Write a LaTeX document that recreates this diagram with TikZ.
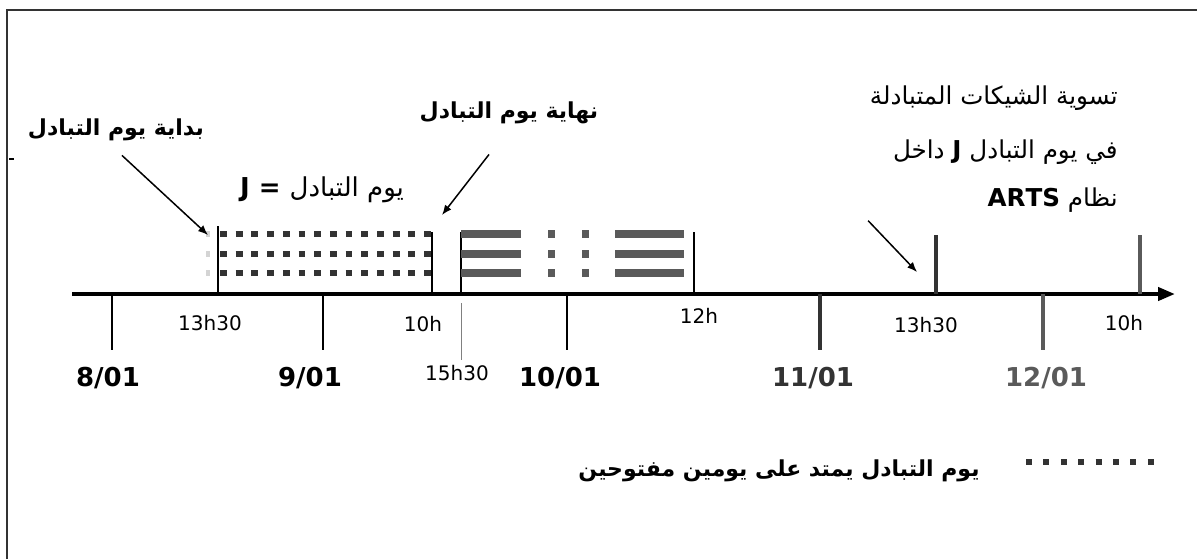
\documentclass[tikz,border=0pt]{standalone}
\usepackage{fontspec}
\setmainfont{DejaVu Sans}
\newfontfamily\arabicfont[Script=Arabic]{DejaVu Sans}
\TeXXeTstate=1
\usetikzlibrary{arrows.meta}

\definecolor{darkgr}{HTML}{333333}
\definecolor{midgr}{HTML}{5A5A5A}
\definecolor{lightgr}{HTML}{D4D4D4}

\begin{document}
\begin{tikzpicture}[x=0.5pt,y=-0.5pt]
\tikzstyle{every node}+=[inner sep=0pt]
\tikzstyle{datelbl}=[font=\fontsize{13}{15}\selectfont\bfseries]
\tikzstyle{timelbl}=[font=\fontsize{10}{12}\selectfont]
\tikzstyle{arbold}=[font=\arabicfont\fontsize{11}{13}\selectfont\bfseries]
\tikzstyle{arplain}=[font=\arabicfont\fontsize{12.3}{14}\selectfont]
\tikzstyle{pointer}=[line width=0.75pt,-{Latex[length=5pt,width=4pt]}]
\tikzstyle{thintick}=[line width=0.75pt,black]
\tikzstyle{thicktick}=[line width=1.6pt]
\tikzstyle{dotrow}=[line width=3.4pt,darkgr,dash pattern=on 3.4pt off 4.45pt]
\tikzstyle{barrow}=[line width=4pt,midgr]
\useasboundingbox (0,0) rectangle (1197,559);
% frame
\draw [line width=1pt,darkgr] (7,559) -- (7,10) -- (1197,10);
\draw [line width=0.6pt] (9,159) -- (14,159);
% time axis
\coordinate (axisL) at (72,294);
\coordinate (axisR) at (1175,294);
\draw [line width=2pt,-{Triangle[length=8.5pt,width=6.5pt]}] (axisL) -- (axisR);
% day ticks below the axis
\draw [thintick] (112,294) -- (112,350);
\draw [thintick] (323,294) -- (323,350);
\draw [thintick] (567,294) -- (567,350);
\draw [thicktick,darkgr] (820,294) -- (820,350);
\draw [thicktick,midgr] (1043,294) -- (1043,350);
\draw [line width=0.5pt,gray] (461,303) -- (461,360);
% hour ticks above the axis
\draw [thintick] (218,226) -- (218,294);
\draw [thintick] (432,232) -- (432,294);
\draw [thintick] (461,232) -- (461,294);
\draw [thintick] (694,232) -- (694,294);
\draw [thicktick,darkgr] (936,235) -- (936,294);
\draw [thicktick,midgr] (1140,235) -- (1140,294);
% exchange day J
\foreach \r in {234,254,273} {
  \fill [lightgr] (206,\r-3) rectangle (210,\r+3);
  \draw [dotrow] (220,\r) -- (432,\r);
  \draw [barrow] (461,\r) -- (521,\r);
  \draw [barrow] (548,\r) -- (555,\r);
  \draw [barrow] (582,\r) -- (589,\r);
  \draw [barrow] (615,\r) -- (684,\r);
}
% dates
\node [datelbl] (d8) at (108,378) {8/01};
\node [datelbl] (d9) at (310,378) {9/01};
\node [datelbl] (d10) at (560,378) {10/01};
\node [datelbl,darkgr] (d11) at (813,378) {11/01};
\node [datelbl,midgr] (d12) at (1046,378) {12/01};
% hours
\node [timelbl] (h1) at (210,323) {13h30};
\node [timelbl] (h2) at (423,324) {10h};
\node [timelbl] (h3) at (457,373) {15h30};
\node [timelbl] (h4) at (699,316) {12h};
\node [timelbl] (h5) at (926,325) {13h30};
\node [timelbl] (h6) at (1124,323) {10h};
% labels
\node [arbold] (startlbl) at (116,130) {\beginR بداية يوم التبادل\endR};
\node [arbold] (endlbl) at (509,113) {\beginR نهاية يوم التبادل\endR};
\node [arplain,font=\arabicfont\fontsize{13}{15}\selectfont] (daylbl) at (322,190)
  {\beginR يوم التبادل\textbf{ = J}\endR};
\node [arplain,anchor=east] (settle1) at (1118,98) {\beginR تسوية الشيكات المتبادلة\endR};
\node [arplain,anchor=east] (settle2) at (1118,152) {\beginR في يوم التبادل \textbf{J} داخل\endR};
\node [arplain,anchor=east] (settle3) at (1118,200) {\beginR نظام \textbf{\beginL ARTS\endL}\endR};
\coordinate (starttip) at (208,235);
\coordinate (endtip) at (442,215);
\coordinate (settletip) at (917,272);
\draw [pointer] ([shift={(6,14)}]startlbl.south) -- (starttip);
\draw [pointer] ([shift={(-20,30)}]endlbl.south) -- (endtip);
\draw [pointer] ([shift={(-119,8)}]settle3.south west) -- (settletip);
% legend
\draw [dotrow,dash pattern=on 3pt off 5.7pt,line width=3pt] (1026,462) -- (1156,462);
\node [arbold,anchor=east] (legend) at (980,471) {\beginR يوم التبادل يمتد على يومين مفتوحين\endR};
\end{tikzpicture}
\end{document}
